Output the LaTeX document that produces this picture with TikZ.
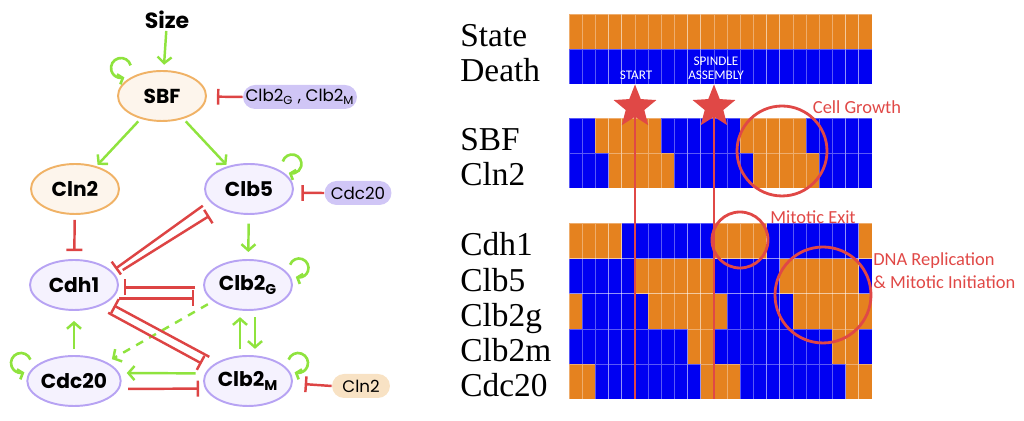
\documentclass[tikz,border=0pt]{standalone}
\usepackage{fontspec}
\setmainfont{Liberation Serif}
\newfontfamily\handfont{Poppins}
\newfontfamily\notefont{Carlito}
\usetikzlibrary{shapes.geometric,arrows.meta,bending}

\definecolor{actgreen}{RGB}{143,227,62}
\definecolor{inhred}{RGB}{221,68,68}
\definecolor{markred}{RGB}{224,72,70}
\definecolor{nodepurple}{RGB}{183,163,243}
\definecolor{nodefill}{RGB}{245,242,254}
\definecolor{nodeorange}{RGB}{240,178,102}
\definecolor{factorfill}{RGB}{253,245,236}
\definecolor{pillpurple}{RGB}{208,198,246}
\definecolor{pillorange}{RGB}{248,226,196}
\definecolor{cellorange}{RGB}{229,130,31}
\definecolor{cellblue}{RGB}{0,0,242}
\colorlet{cell0}{cellblue}
\colorlet{cell1}{cellorange}

\begin{document}
\begin{tikzpicture}[x=0.02cm, y=0.02cm,
    % Define styles
    protein/.style={
        ellipse,
        draw=nodepurple,
        fill=nodefill,
        line width=1.1pt,
        minimum width=1.76cm,
        minimum height=1.0cm,
        inner sep=0pt,
        font=\handfont\bfseries\fontsize{11.5}{11.5}\selectfont
    },
    factor/.style={
        protein,
        draw=nodeorange,
        fill=factorfill
    },
    pill/.style={
        rectangle,
        rounded corners=0.24cm,
        fill=pillpurple,
        minimum height=0.48cm,
        inner sep=0pt,
        font=\handfont\fontsize{9.5}{9.5}\selectfont
    },
    act/.style={
        draw=actgreen,
        line width=1.4pt,
        -{Straight Barb[length=3.5pt,width=8pt]}
    },
    loopact/.style={
        draw=actgreen,
        line width=1.5pt,
        -{Straight Barb[length=2.5pt,width=6pt,flex]}
    },
    inh/.style={
        draw=inhred,
        line width=1.4pt,
        -{Bar[width=9pt]}
    },
    rowlabel/.style={
        anchor=base west,
        inner sep=0pt,
        font=\fontsize{19}{19}\selectfont
    },
    cellline/.style={
        draw=white,
        draw opacity=0.35,
        line width=0.4pt
    },
    ring/.style={
        circle,
        draw=markred,
        line width=1.6pt,
        inner sep=0pt
    },
    note/.style={
        text=markred,
        inner sep=0pt,
        font=\notefont\fontsize{10.5}{13}\selectfont
    },
    cutline/.style={
        draw=markred,
        line width=1.3pt
    },
    milestone/.style={
        star,
        star points=5,
        star point ratio=2.3,
        fill=markred,
        minimum size=0.9cm,
        inner sep=0pt
    },
    tag/.style={
        text=white,
        inner sep=0pt,
        align=center,
        font=\notefont\fontsize{7.5}{8}\selectfont
    }
]
\useasboundingbox (0,0) rectangle (1024,421);

% Network nodes
\node[font=\handfont\bfseries\fontsize{12.5}{12.5}\selectfont, inner sep=1pt] (size) at (167,401) {Size};
\node[factor] (sbf) at (162,325) {SBF};
\node[factor] (cln2) at (75,232) {Cln2};
\node[protein] (clb5) at (249,232) {Clb5};
\node[protein] (cdh1) at (74,136) {Cdh1};
\node[protein] (clb2g) at (248,136) {Clb2\textsubscript{G}};
\node[protein] (cdc20) at (74,40) {Cdc20};
\node[protein] (clb2m) at (248,40) {Clb2\textsubscript{M}};

% Outside regulators
\node[pill, minimum width=2.28cm] (pillclb2) at (300,324) {Clb2\textsubscript{G} , Clb2\textsubscript{M}};
\node[pill, minimum width=1.34cm] (pillcdc20) at (358,228) {Cdc20};
\node[pill, fill=pillorange, minimum width=1.16cm] (pillcln2) at (361,35) {Cln2};

% Self loops
\draw[loopact] ([shift={(-41,28)}]sbf.center) ++(15:0.2cm) arc[start angle=15, end angle=290, radius=0.2cm];
\draw[loopact] ([shift={(-53,18)}]cdc20.center) ++(20:0.2cm) arc[start angle=20, end angle=290, radius=0.2cm];
\draw[loopact] ([shift={(43,25)}]clb5.center) ++(165:0.19cm) arc[start angle=165, end angle=-110, radius=0.19cm];
\draw[loopact] ([shift={(51,17)}]clb2g.center) ++(160:0.19cm) arc[start angle=160, end angle=-110, radius=0.19cm];
\draw[loopact] ([shift={(50,18)}]clb2m.center) ++(160:0.2cm) arc[start angle=160, end angle=-110, radius=0.2cm];

% Activation arrows
\draw[act, shorten >=3pt] (size) -- (sbf);
\draw[act, shorten <=2pt, shorten >=1pt] (sbf) -- (cln2);
\draw[act, shorten <=2pt, shorten >=1pt] (sbf) -- (clb5);
\draw[act, shorten <=5pt, shorten >=4pt] (clb5) -- (clb2g);
\draw[act, shorten <=3.5pt, shorten >=3.5pt] ([shift={(-8,0)}]clb2m.north) -- ([shift={(-8,0)}]clb2g.south);
\draw[act, shorten <=3.5pt, shorten >=3.5pt] ([shift={(7,0)}]clb2g.south) -- ([shift={(7,0)}]clb2m.north);
\draw[act, shorten <=5.3pt, shorten >=4.2pt] (clb2m.170) -- (cdc20.10);
\draw[act, shorten <=3.4pt, shorten >=5.7pt] (cdc20) -- (cdh1);
\draw[act, dash pattern=on 4.5pt off 4pt, shorten <=3.4pt, shorten >=3.4pt] (clb2g.205) -- (cdc20.30);

% Inhibition arrows
\draw[inh, shorten >=5.7pt] (pillclb2.west) -- (sbf);
\draw[inh, shorten >=4.5pt] (pillcdc20.west) -- (clb5.-5);
\draw[inh, shorten >=6.8pt] (pillcln2.west) -- (clb2m.-3);
\draw[inh, shorten <=2.8pt, shorten >=4.5pt] (cln2) -- (cdh1);
\draw[inh, shorten <=4.5pt, shorten >=2.3pt] (clb5.197) -- (cdh1.20);
\draw[inh, shorten <=5pt, shorten >=7.4pt] (cdh1.14) -- (clb5.215);
\draw[inh, shorten <=4.5pt, shorten >=2.7pt] (clb2g.183) -- (cdh1.-3);
\draw[inh, shorten <=3.8pt, shorten >=8.5pt] (cdh1.-19) -- (clb2g.199);
\draw[inh, shorten <=5.7pt, shorten >=4pt] (clb2m.147) -- (cdh1.-27);
\draw[inh, shorten <=6.8pt, shorten >=5pt] (cdh1.-43) -- (clb2m.161);
\draw[inh, shorten <=5pt, shorten >=3.4pt] (cdc20.-10) -- (clb2m.190);

% State grid (1 = on, 0 = off)
\foreach \top/\name/\bits in {
    14/State/{1,1,1,1,1,1,1,1,1,1,1,1,1,1,1,1,1,1,1,1,1,1,1},
    49.2/Death/{0,0,0,0,0,0,0,0,0,0,0,0,0,0,0,0,0,0,0,0,0,0,0},
    118/SBF/{0,0,1,1,1,1,1,0,0,0,0,0,0,1,1,1,1,1,0,0,0,0,0},
    153.2/Cln2/{0,0,0,1,1,1,1,1,0,0,0,0,0,0,1,1,1,1,1,0,0,0,0},
    223.4/Cdh1/{1,1,1,1,0,0,0,0,0,0,0,1,1,1,1,0,0,0,0,0,0,0,1},
    258.6/Clb5/{0,0,0,0,0,1,1,1,1,1,1,0,0,0,0,0,1,1,1,1,1,1,0},
    293.8/Clb2g/{1,0,0,0,0,0,1,1,1,1,1,1,0,0,0,0,0,1,1,1,1,1,1},
    329/Clb2m/{0,0,0,0,0,0,0,0,0,1,1,0,0,0,0,0,0,0,0,0,1,1,0},
    364.2/Cdc20/{1,1,0,0,0,0,0,0,0,0,1,1,1,0,0,0,0,0,0,0,0,1,1}} {
    \node[rowlabel] (lab\name) at (460,{421-\top-32.6}) {\name};
    \foreach \b [count=\c from 0] in \bits {
        \filldraw[cellline, fill=cell\b] ({569+\c*13.174},{421-\top}) rectangle ++(13.174,-35.2);
    }
}
\coordinate (gridbot) at (0,21.6);

% Cell cycle checkpoints
\draw[cutline] (635,314) -- (635,21.6 |- gridbot);
\draw[cutline] (714,314) -- (714,21.6 |- gridbot);
\node[milestone] (start) at (635,314) {};
\node[milestone] (spindle) at (714,314) {};
\node[tag] (startlbl) at (636,346) {START};
\node[tag] (spindlelbl) at (716,353) {SPINDLE\\ASSEMBLY};

% Annotations
\node[ring, minimum size=1.8cm] (growth) at (782,270) {};
\node[note] (growthlbl) at (857,314) {Cell Growth};
\node[ring, minimum size=1.12cm] (exit) at (740,181) {};
\node[note] (exitlbl) at (813,204) {Mitotic Exit};
\node[ring, minimum size=1.92cm] (dna) at (823,126) {};
\node[note, align=left, anchor=west] (dnalbl) at (873,150) {DNA Replication\\\& Mitotic Initiation};
\end{tikzpicture}
\end{document}
